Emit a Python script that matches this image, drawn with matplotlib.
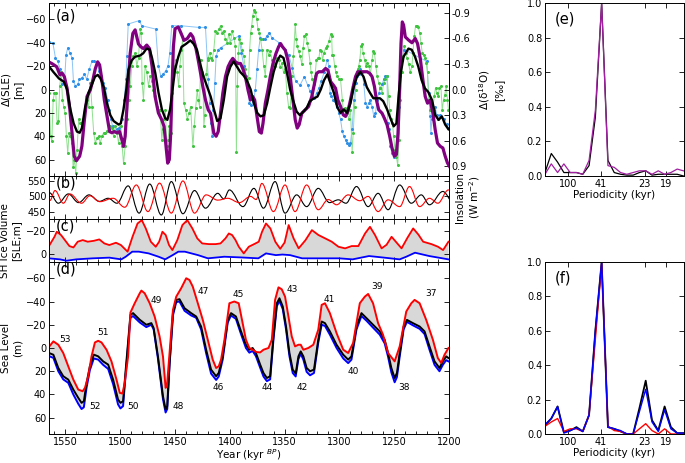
import numpy as np
import matplotlib
matplotlib.use("Agg")
import matplotlib.pyplot as plt
from matplotlib.ticker import MultipleLocator, FormatStrFormatter
from matplotlib.path import Path
from matplotlib.patches import PathPatch

plt.rcParams['font.family'] = ['DejaVu Sans']
plt.rcParams['axes.linewidth'] = 0.7

# ---- panel (a): sea level reconstructions (m) ----
A_BLACK = [(1566,-21),(1561,-15),(1556,-9.5),(1551.5,-6.7),(1548.5,0),(1545.5,17),(1542.5,29),(1539.5,36),(1537,37),(1535,33),
           (1532,15),(1529,3),(1526,-4),(1523,-11),(1520.5,-12.5),(1518,-9.5),(1515,-2),(1512,12),(1509,22),(1506,27),
           (1501.5,30),(1499.5,29),(1497,17),(1494.5,0),(1492.5,-17),(1489.5,-25),(1486.5,-28),(1482,-29),(1479,-31),(1476,-35),
           (1473,-34),(1471,-27),(1468,-14),(1465,3),(1462,17),(1459,24.5),(1457,26),(1454.5,17),(1452,-2),(1450,-17),
           (1447,-28),(1444,-36.5),(1440,-39),(1436,-42),(1433,-39),(1430,-34),(1427,-22),(1424,-11),(1420.5,-2),(1417.5,6),
           (1414.5,17),(1411.5,27),(1408.5,24.5),(1405.5,9),(1402.5,-11),(1399.5,-19.5),(1396.5,-24),(1393.5,-19.5),(1390.5,-15),
           (1387.5,-12),(1384.5,-8),(1381,0),(1378,12),(1375,20),(1372,23),(1369,22),(1366,12),(1363,-2),(1360,-15),
           (1357,-24),(1354,-29),(1351,-27),(1348,-15),(1345,0),(1342,10),(1339,19),(1336,22),(1333,19),(1330,16),
           (1327,10),(1324,8),(1320,6),(1317,0),(1314,-8),(1311,-13),(1308,-5),(1305,3),(1302,15),(1299,20),
           (1296,17),(1293,20),(1290,12),(1287,-2),(1284,-11),(1281,-15),(1278,-11),(1275,-2),(1272,3),(1269,7.5),
           (1266,7.5),(1263,7.5),(1260,10),(1256.5,17),(1253.5,24.5),(1250.5,31.5),(1248,29),(1246,6),(1244,-14),(1241.5,-28),
           (1237,-35),(1234,-34),(1231,-28),(1228,-19.5),(1225,-8),(1222,-1),(1219,2),(1215.5,9),(1212.5,22),(1209.5,26),
           (1206.5,23),(1203.5,30),(1200.5,34)]

A_PURPLE = [(1566,-24),(1562,-22),(1558,-19.5),(1555,-12.5),(1553,-14),(1551,-11),(1548.5,-1),(1546,17),(1544,37),(1542,57),
            (1540,61),(1537,57),(1535,48.5),(1532.7,26),(1530.3,6),(1527.3,0.4),(1525,-8),(1522.7,-18),(1520.6,-23.7),(1518.8,-21),
            (1516.7,-8),(1514.5,9),(1512,23),(1509.7,36),(1507.6,37),(1505.5,36),(1503,37),(1500.6,36),(1498.5,43),(1497,48.6),
            (1495.5,40),(1494,17),(1492.4,-11),(1490.9,-31),(1488.5,-48),(1486.4,-51),(1484.9,-45),(1483.4,-39),(1481.2,-36.5),
            (1478.8,-35),(1475.8,-38),(1473.3,-35),(1470.9,-19.5),(1468.2,6),(1465.2,20),(1462.1,26),(1460,31.6),(1458.2,48.6),
            (1456.7,63),(1455.2,60),(1453.9,37),(1452.7,-2.4),(1451.5,-36.5),(1450,-52),(1447,-53.5),(1444.9,-49),(1443.1,-45),
            (1441.9,-42),(1438.8,-43.6),(1435.8,-47.8),(1433.7,-45),(1431.2,-36.5),(1428.8,-25),(1426.7,-14),(1424.6,-2.4),
            (1422.2,9),(1419.7,17.4),(1417.6,20.3),(1416.1,28.8),(1414.6,37.3),(1412.5,40),(1410.6,36),(1408.5,20.3),(1406.4,3.2),
            (1404,-11),(1401.6,-19.5),(1399.4,-23.7),(1397.3,-26.6),(1394.9,-23.7),(1392.5,-22.3),(1390.3,-22.3),(1388.2,-18),
            (1385.8,-11),(1383.4,0.4),(1381.2,9),(1379.1,6),(1377.3,9),(1375.2,23),(1373.1,36),(1371.2,37.3),(1369.7,28.8),
            (1367.6,11.7),(1365.2,0.4),(1363.1,-11),(1360.6,-22.3),(1357.9,-30.8),(1355.5,-36.5),(1353.7,-39.3),(1351.9,-36.5),
            (1349.4,-33.6),(1347,-25),(1344.9,-11),(1342.8,6),(1340.3,26),(1338.5,33),(1336.7,30),(1334.3,20.3),(1331.2,17.4),
            (1328.2,14.6),(1325.2,6),(1322.5,-6),(1320.8,-13.8),(1318.7,-15.2),(1315.6,-15.2),(1312.6,-18),(1310.5,-16.6),
            (1308,-6.7),(1305.6,-3.9),(1303.5,-1),(1301.4,9),(1298.9,14.6),(1296.5,21.7),(1294.4,23),(1292.3,18.8),(1289.9,9),
            (1287.4,-2.4),(1285.3,-11),(1283.2,-15.2),(1280.8,-15.2),(1277.7,-15.2),(1274.7,-15.2),(1272.3,-13.8),(1270.2,-11),
            (1268,-2.4),(1266.2,9),(1264.1,17.4),(1261.1,20.3),(1259,24.5),(1256.5,30.2),(1254.1,40),(1252,50),(1249.9,57),
            (1248,55.7),(1246.5,37.3),(1245,-2.4),(1243.8,-39.3),(1242.6,-57.8),(1241.4,-55),(1239.9,-45),(1236.8,-42.2),
            (1233.8,-40),(1230.8,-43.6),(1228.7,-39.3),(1226.2,-26.6),(1223.8,-8),(1221.7,6),(1219.6,11.7),(1217.2,9),
            (1214.7,20.3),(1212.6,34.4),(1210.5,45.8),(1208,48.6),(1205.6,50),(1203.5,57),(1201.4,62.8),(1199.6,65.7)]

# ---- panel (a): d18O records (permil, right axis) ----
A_BLUE = [(1565.2,-0.56),(1561.5,-0.55),(1559.1,-0.37),(1557,-0.33),(1554.8,-0.24),(1553,-0.06),(1550.9,-0.08),(1549.4,-0.41),
          (1547.9,-0.49),(1545.8,-0.43),(1543.9,-0.37),(1542.7,-0.10),(1540.9,-0.04),(1538.8,-0.06),(1537.3,-0.12),(1534.8,-0.14),
          (1532.7,-0.18),(1530.6,-0.12),(1528.2,-0.24),(1525.8,-0.33),(1523.6,-0.33),(1521.5,-0.31),(1519.1,-0.22),(1517.6,-0.16),
          (1515.5,-0.08),(1513.6,-0.02),(1511.5,0.12),(1510,0.24),(1508.5,0.35),(1507,0.43),(1505.5,0.49),(1503.3,0.47),
          (1500.9,0.45),(1498.5,0.35),(1496.4,0.12),(1494.8,-0.12),(1493.9,-0.39),(1492.7,-0.77),(1482.7,-0.81),(1480.3,-0.75),
          (1467.6,-0.71),(1465.2,-0.28),(1463,-0.16),(1460.9,-0.18),(1458.5,-0.22),(1456.4,-0.28),(1454.8,-0.43),(1453,-0.75),
          (1444.8,-0.75),(1428.2,-0.73),(1422.2,-0.73),(1419.7,-0.12),(1418.5,0.16),(1417.3,0.39),(1416.1,0.55),(1414.9,0.24),
          (1413.7,-0.08),(1412.5,-0.39),(1410.6,-0.47),(1408.5,-0.49),(1391.9,-0.63),(1389.4,-0.43),(1387.3,-0.28),(1385.2,-0.16),
          (1383.4,-0.04),(1382.2,0.16),(1380.3,0.18),(1378.5,0.14),(1376.7,0.0),(1375.2,-0.24),(1373.7,-0.47),(1372.2,-0.61),
          (1370,-0.59),(1368.2,-0.59),(1366.1,-0.63),(1364,-0.67),(1361.6,-0.61),(1355,-0.55),(1349.4,-0.47),(1346,-0.40),
          (1343,-0.25),(1340,-0.10),(1336,-0.05),(1332,-0.15),(1329,-0.05),(1327,0.02),(1325,0.08),(1323.2,0.10),(1320.8,0.04),
          (1318.7,-0.02),(1316.5,-0.1),(1314,-0.2),(1311,-0.35),(1309.6,-0.28),(1308.5,0.04),(1307.4,0.08),(1305.6,0.12),
          (1304.4,0.14),(1303.2,0.16),(1302,0.2),(1300.5,0.28),(1299,0.35),(1297.4,0.49),(1296,0.55),(1294.4,0.59),(1292.9,0.63),
          (1291.4,0.65),(1290,0.63),(1288.4,0.47),(1286.8,0.12),(1285.3,-0.08),(1283.8,-0.16),(1282.3,-0.18),(1280.8,-0.24),
          (1279.2,-0.20),(1277.7,-0.06),(1276.2,0.16),(1274.7,0.20),(1273.2,0.16),(1271.7,0.12),(1270.2,0.20),(1268.7,0.31),
          (1267.1,0.28),(1265.6,0.12),(1264.1,0.04),(1262.6,-0.02),(1261.1,-0.06),(1259.6,-0.12),(1258,-0.16),(1256.5,-0.16),
          (1256,0.39),(1255,0.47),(1253.5,0.67),(1252,0.75),(1250.5,0.79),(1249,0.75),(1247.5,0.59),(1246,0.2),(1244.5,-0.16),
          (1243,-0.35),(1240.8,-0.47),(1220.2,-0.33),(1218.7,0.04),(1217.2,0.31),(1216.5,0.51),(1215.6,0.35),(1214.1,0.24),
          (1212.6,0.20),(1211.1,0.30),(1209.6,0.35),(1208,0.30),(1205,0.35),(1202,0.41),(1200.5,0.45)]

A_GREEN = [(1566.1,-0.12),(1564.9,0.04),(1563.6,0.55),(1562.4,0.61),(1561.2,0.12),(1560.0,0.04),(1558.8,0.04),(1557.6,0.39),
           (1556.4,0.37),(1555.2,-0.04),(1553.9,-0.20),(1552.7,0.12),(1551.5,0.20),(1550.3,0.28),(1549.1,0.55),(1547.9,0.75),
           (1546.7,0.51),(1545.5,0.55),(1544.2,0.63),(1543.0,0.91),(1541.8,0.83),(1540.6,0.98),(1539.4,0.71),(1537.9,0.35),
           (1536.4,0.39),(1534.9,0.39),(1533.3,0.31),(1531.8,0.24),(1530.3,0.12),(1528.8,0.20),(1527.3,-0.08),(1525.8,0.20),
           (1524.2,0.51),(1522.7,0.63),(1521.2,0.57),(1519.7,0.55),(1518.2,0.63),(1516.7,0.55),(1515.2,0.51),(1513.6,0.51),
           (1512.1,0.49),(1510.6,0.47),(1509.1,0.43),(1507.6,0.45),(1506.1,0.55),(1504.5,0.43),(1503.0,0.51),(1501.5,0.63),
           (1499.4,0.43),(1498.2,0.67),(1497.0,0.87),(1495.5,0.67),(1494.0,0.35),(1492.4,0.12),(1490.9,-0.04),(1489.4,-0.28),
           (1487.9,-0.39),(1486.4,-0.43),(1484.9,-0.28),(1483.3,-0.37),(1481.8,-0.71),(1480.9,-0.67),(1480.0,-0.08),(1478.8,0.12),
           (1477.3,-0.28),(1475.8,-0.20),(1474.2,-0.04),(1472.7,-0.16),(1471.2,-0.10),(1469.7,0.0),(1468.2,0.08),(1466.7,0.20),
           (1465.2,0.24),(1463.6,0.24),(1462.1,0.59),(1461.2,0.47),(1460.0,0.35),(1458.8,0.24),(1457.6,0.67),(1456.4,0.59),
           (1455.2,0.43),(1454.0,0.51),(1452.7,0.04),(1451.5,-0.16),(1450.3,-0.28),(1449.1,-0.35),(1447.9,-0.20),(1446.7,-0.04),
           (1445.5,-0.28),(1444.2,-0.47),(1443.0,-0.59),(1441.9,0.16),(1440.3,0.24),(1438.8,0.35),(1437.3,0.28),(1435.8,0.20),
           (1433.7,0.67),(1432.5,0.43),(1431.2,0.22),(1429.7,0.0),(1428.8,0.12),(1427.6,0.20),(1426.7,-0.35),(1425.8,-0.20),
           (1424.6,-0.16),(1423.7,0.43),(1422.8,0.30),(1421.6,-0.18),(1420.3,-0.35),(1419.7,-0.37),(1418.5,-0.43),(1417.3,-0.37),
           (1416.1,-0.35),(1414.6,-0.47),(1413.1,-0.69),(1411.5,-0.67),(1410.0,-0.71),(1408.5,-0.75),(1407.0,-0.67),(1405.5,-0.69),
           (1404.0,-0.59),(1402.5,-0.55),(1400.9,-0.65),(1399.4,-0.55),(1397.9,-0.69),(1396.4,-0.61),(1394.9,-0.51),(1394.0,0.74),
           (1393.1,-0.04),(1392.2,-0.43),(1391.2,-0.59),(1390.0,-0.55),(1388.8,-0.47),(1387.3,-0.39),(1385.8,-0.24),(1384.9,-0.12),
           (1383.7,0.02),(1382.8,-0.14),(1381.9,-0.47),(1381.0,-0.67),(1380.0,-0.75),(1379.1,-0.87),(1377.9,-0.93),(1376.7,-0.91),
           (1375.5,-0.83),(1374.3,-0.71),(1373.1,-0.67),(1371.9,-0.59),(1370.6,-0.47),(1369.1,-0.28),(1367.6,-0.16),(1366.1,-0.47),
           (1364.6,-0.41),(1363.1,-0.45),(1361.5,-0.35),(1360.0,-0.31),(1358.5,-0.28),(1357.0,-0.37),(1355.5,-0.35),(1354.0,-0.26),
           (1352.5,-0.31),(1351.0,-0.20),(1349.4,-0.24),(1347.9,0.04),(1346.4,0.20),(1344.9,0.22),(1343.4,-0.16),(1341.9,-0.39),
           (1340.3,-0.77),(1339.4,-0.59),(1338.5,-0.51),(1337.3,-0.45),(1335.8,-0.39),(1334.3,-0.30),(1333.1,-0.49),(1331.9,-0.63),
           (1330.6,-0.65),(1329.4,-0.55),(1328.2,-0.47),(1326.7,-0.31),(1325.8,-0.20),(1324.6,-0.12),(1323.4,-0.06),(1322.2,-0.16),
           (1321.0,-0.35),(1319.7,-0.37),(1318.7,-0.37),(1317.7,-0.47),(1316.5,-0.45),(1315.3,-0.35),(1314.1,-0.43),(1312.6,-0.49),
           (1311.1,-0.51),(1309.6,-0.57),(1308.0,-0.65),(1307.1,-0.63),(1306.5,-0.41),(1305.6,-0.41),(1304.4,-0.28),(1303.2,-0.20),
           (1302.0,-0.16),(1300.5,-0.12),(1299.0,-0.12),(1297.4,0.12),(1296.5,0.24),(1295.3,0.22),(1294.1,0.24),(1292.9,0.28),
           (1291.4,0.35),(1289.9,0.24),(1288.4,0.73),(1287.4,0.51),(1286.2,0.20),(1285.3,0.0),(1284.4,-0.20),(1283.2,-0.24),
           (1282.3,-0.28),(1281.4,-0.35),(1280.2,-0.51),(1279.3,-0.53),(1278.4,-0.43),(1277.1,-0.35),(1275.9,-0.28),(1274.7,-0.31),
           (1273.2,-0.28),(1271.7,-0.18),(1270.2,-0.35),(1269.3,-0.45),(1268.0,-0.43),(1266.8,-0.28),(1265.6,-0.16),(1264.1,-0.08),
           (1262.6,-0.02),(1261.1,0.04),(1259.6,-0.08),(1258.0,-0.12),(1256.5,-0.16),(1255.0,0.08),(1254.1,0.24),(1252.9,0.35),
           (1251.7,0.39),(1250.5,0.55),(1249.3,0.71),(1248.0,0.79),(1246.8,0.89),(1245.6,0.59),(1244.4,0.12),(1243.2,-0.20),
           (1242.0,-0.39),(1240.8,-0.51),(1239.6,-0.43),(1238.3,-0.37),(1236.8,-0.30),(1235.3,-0.20),(1233.8,-0.28),(1232.9,-0.43),
           (1231.7,-0.63),(1230.5,-0.75),(1229.3,-0.75),(1228.0,-0.73),(1226.8,-0.67),(1225.6,-0.55),(1224.4,-0.43),(1223.2,-0.41),
           (1222.0,-0.37),(1220.8,-0.31),(1219.6,-0.20),(1218.4,0.12),(1217.1,0.24),(1215.9,0.16),(1214.7,0.22),(1213.5,0.08),
           (1212.3,-0.02),(1211.1,0.04),(1209.9,0.08),(1208.7,-0.02),(1207.4,-0.04),(1206.2,0.24),(1205.0,0.12),(1203.8,0.06),
           (1202.6,-0.04),(1201.4,0.12),(1200.5,0.24)]

# ---- panel (b): insolation extremes (W m-2), alternating max / min ----
B_BLACK = [(1570,478),(1564.7,512),(1556.5,478),(1547.4,508),(1538,480),(1528.5,505),(1519,484),(1511,494),
           (1503,478),(1492.8,534),(1482.8,446),(1473.1,540),(1462.5,440),(1453.4,548),(1442.8,444),(1432.2,519),
           (1422.2,462),(1411,510),(1405.5,492),(1400.4,521),(1388,467),(1378,526),(1369.3,462),(1358.7,548),
           (1349.6,446),(1339,505),(1329.9,467),(1319.3,526),(1309,480),(1301,489),(1294,478),(1284.4,532),
           (1273.8,467),(1264.7,510),(1255.6,457),(1245,537),(1234.4,478),(1225.3,505),(1217.8,473),(1205.6,516),
           (1196,480)]
B_RED = [(1570,500),(1564.1,487),(1559.5,519),(1551.9,478),(1545.9,508),(1535.3,478),(1527.7,502),(1518.6,483),
         (1506.5,494),(1495.9,465),(1485.3,537),(1474.7,451),(1464.1,543),(1453.4,446),(1442.8,550),(1432.2,446),
         (1421.6,505),(1411,488),(1402,494),(1391.3,480),(1381,500),(1376,490),(1370.8,542),(1360.2,451),
         (1349.6,537),(1340.5,451),(1329.9,537),(1319.3,457),(1310.2,490),(1302.6,473),(1292,505),(1281.4,486),
         (1273.8,500),(1264.7,451),(1255.6,489),(1245,467),(1236,532),(1226.8,467),(1217.8,494),(1210.2,478),
         (1200.5,521),(1195,500)]

# ---- panel (c): SH ice volume (SLE m) ----
C_RED = [(1565,-7),(1560,-15),(1557.9,-19.4),(1554,-16.5),(1549.4,-10.7),(1546.4,-6.9),(1542.7,-5.7),(1538.8,-10.7),
         (1534.2,-12.1),(1529.7,-10.7),(1524,-11.5),(1519.1,-12.7),(1514.5,-9.2),(1510,-7.8),(1503.9,-9.8),(1499.4,-7.8),
         (1493.3,-2.0),(1488.8,-15.0),(1484.2,-26.6),(1480.3,-29.5),(1476.7,-22.3),(1472.1,-10.7),(1467.6,-6.3),(1464.5,-10.7),
         (1461.5,-19.4),(1458.5,-16.5),(1455.5,-7.8),(1452.4,-3.4),(1447.9,-12.1),(1443.3,-25.2),(1438.8,-29.5),(1434.2,-22.3),
         (1429.7,-13.6),(1425.2,-9.2),(1419.1,-8.6),(1413,-8.6),(1408.5,-9.2),(1404,-13.6),(1400.9,-17.9),(1397.9,-16.5),
         (1394.8,-12.1),(1391.8,-6.3),(1387.3,-0.5),(1382.7,-6.3),(1377,-9),(1373.6,-10.7),(1370.6,-19.4),(1367,-26.6),
         (1363,-22.3),(1358.5,-10.7),(1354,-4.5),(1350,-10),(1346.3,-25.2),(1341.8,-13.6),(1337.2,-4.9),(1331,-12),
         (1325.1,-20.8),(1319.1,-16.5),(1313,-13.6),(1307,-10.7),(1300.9,-6.3),(1294.8,-4.9),(1288.8,-6.9),(1282.7,-6.9),
         (1276.6,-17.9),(1272.1,-23.7),(1267.5,-16.5),(1261.5,-4.9),(1257,-8),(1252.4,-15.0),(1247,-9),(1243.3,-4.9),
         (1238,-14),(1232.7,-22.3),(1228,-17),(1223.6,-10.7),(1216,-8.6),(1210,-6.3),(1205.4,-3.4),(1200.5,-10.7)]
C_BLUE = [(1565,3.8),(1555,4.7),(1549,5.9),(1540,4.7),(1525,3.8),(1510,3.2),(1499,4.7),(1495,2.4),(1489,-2.0),
          (1483,-2.0),(1474,-0.5),(1465,2.4),(1459,4.7),(1452,0.9),(1447,-2.0),(1441,-2.0),(1429,1.0),(1420,3.8),
          (1405,2.4),(1390,3.0),(1374,3.8),(1367,-0.5),(1358,1.0),(1352,0.5),(1345,1.0),(1334,3.8),(1319,3.8),
          (1300,3.8),(1288,4.7),(1273,1.8),(1261,3.0),(1245,4.7),(1239,2.4),(1231,-1.1),(1218,1.8),(1200.5,4.7)]

# ---- panel (d): sea level (m) ----
D_RED = [(1565,-1),(1561,-5.7),(1556.5,-2.8),(1552,4.3),(1547.4,15.8),(1542.8,27.2),(1538.3,35.8),(1534.3,37.2),
         (1532.2,34.3),(1529.2,24.3),(1526.2,7.2),(1523.1,-4.8),(1520.1,-6.2),(1517.1,-4.8),(1512.5,1.5),(1508,11.5),
         (1503.4,27.2),(1500.4,38.6),(1498,39.2),(1495.9,30.0),(1492.8,7.2),(1490.7,-30.5),(1486.8,-38.5),(1482.2,-47.1),
         (1480.7,-49.4),(1477.7,-47.1),(1473.1,-38.5),(1468.6,-27.1),(1464.1,-10.0),(1461,7.2),(1458.6,34.3),(1457.4,32.9),
         (1455,4.3),(1451.9,-32.8),(1448.9,-44.2),(1444.4,-51.4),(1439.8,-60.0),(1436.8,-58.5),(1433.8,-52.8),(1429.2,-38.5),
         (1424.7,-24.3),(1420.1,-7.1),(1415.6,10.0),(1412.5,17.2),(1410.1,15.7),(1408,10.0),(1404.9,-7.1),(1400.4,-38.5),
         (1395.9,-40.0),(1391.9,-38.5),(1388.3,-21.4),(1385.3,-7.1),(1382.2,0),(1379.2,1.5),(1375.8,3.5),(1372.3,3.8),
         (1369.3,1.5),(1364.7,0.0),(1361.7,-7.1),(1358.7,-41.4),(1355.6,-52.2),(1352.6,-50.5),(1349.6,-44.2),(1346.5,-27.1),
         (1343.5,-10.0),(1340.5,-1.4),(1337.4,-2.8),(1335.3,-2.8),(1332.9,1.5),(1328.4,0.0),(1323.8,-2.8),(1319.3,-15.7),
         (1316.2,-37.1),(1313.2,-38.5),(1308.7,-30.0),(1302.6,-12.8),(1296.5,1.5),(1292,4.3),(1287.5,-4.3),(1281.4,-38.5),
         (1276.8,-44.2),(1273.8,-46.5),(1269.3,-38.5),(1264.7,-21.4),(1260.2,-11.4),(1255.6,4.3),(1249.6,11.5),(1245,-1.4),
         (1239,-31.4),(1234.4,-38.5),(1231.4,-41.4),(1226.8,-38.5),(1220.8,-24.2),(1214.7,-7.1),(1210.2,8.6),(1207.1,12.9),
         (1204.1,5.8),(1200.5,0.0)]
D_BLACK = [(1565,4.3),(1561,5.8),(1556.5,17.2),(1552,24.3),(1547.4,27.2),(1542.8,35.8),(1538.3,42.9),(1535.3,47.2),
           (1533.2,45.8),(1530.7,30.0),(1527.7,15.7),(1524.1,5.7),(1520.1,7.2),(1515.6,11.5),(1511,14.3),(1506.5,27.2),
           (1502,44.3),(1499.8,47.2),(1497.4,45.8),(1495,18.6),(1490.7,-28.5),(1488.3,-30.0),(1482.2,-24.3),(1476.2,-20.0),
           (1471.6,-21.4),(1469.5,-17.1),(1465.6,7.2),(1461,41.5),(1458.6,52.9),(1457.1,50.0),(1455,12.9),(1451.9,-30.0),
           (1448.9,-41.4),(1445.9,-42.0),(1441.3,-34.2),(1435.3,-30.0),(1430.7,-27.1),(1426.2,-18.5),(1421.6,1.5),(1417.1,18.6),
           (1412.5,24.3),(1410.1,21.4),(1406.5,7.1),(1401.9,-24.2),(1398.9,-30.0),(1394.4,-27.1),(1389.8,-14.3),(1385.3,-2.8),
           (1382.2,1.5),(1379.2,0.0),(1376.2,4.3),(1372.3,14.3),(1369.3,21.5),(1366.2,25.8),(1363.2,24.3),(1360.2,-10.0),
           (1357.1,-38.5),(1354.7,-42.8),(1351.7,-35.7),(1348.7,-18.5),(1345.6,4.3),(1342.6,18.6),(1339.9,22.0),(1337.4,7.2),
           (1335.3,2.9),(1332.9,7.2),(1329.9,17.2),(1326.8,20.0),(1323.2,18.6),(1319.3,-7.1),(1316.2,-22.8),(1313.2,-21.4),
           (1308.7,-14.3),(1302.6,-2.8),(1296.5,5.8),(1292,10.0),(1289,7.2),(1284.4,-18.5),(1279.9,-30.0),(1275.3,-25.7),
           (1269.3,-20.0),(1263.2,-14.3),(1258.7,-7.1),(1255.6,4.3),(1252.6,17.2),(1249.6,25.8),(1247.5,21.5),(1245,4.3),
           (1241.4,-18.5),(1238.4,-24.2),(1232.9,-21.4),(1226.8,-18.5),(1222.3,-14.3),(1217.8,-1.4),(1213.2,11.5),(1208.7,17.2),
           (1205.6,11.5),(1202.6,7.2),(1200.5,8.6)]
D_BLUE = [(1565,7),(1561,8.5),(1556.5,20),(1552,27),(1547.4,30),(1542.8,40),(1538.3,48),(1535.3,52.5),
          (1533.2,51),(1530.7,34),(1527.7,19),(1524.1,9),(1520.1,10),(1515.6,14.5),(1511,18),(1506.5,31),
          (1502,48.5),(1499.8,52),(1497.4,50),(1495,22),(1490.7,-26),(1488.3,-27.5),(1482.2,-22),(1476.2,-18),
          (1471.6,-20),(1469.5,-16),(1465.6,9),(1461,44),(1458.6,55.5),(1457.1,52.5),(1455,15),(1451.9,-28),
          (1448.9,-39.5),(1445.9,-40),(1441.3,-32),(1435.3,-28),(1430.7,-26),(1426.2,-16),(1421.6,4.5),(1417.1,22),
          (1412.5,27.5),(1410.1,24.5),(1406.5,10),(1401.9,-22),(1398.9,-28),(1394.4,-25),(1389.8,-12),(1385.3,0),
          (1382.2,4),(1379.2,2.5),(1376.2,7),(1372.3,17),(1369.3,24.5),(1366.2,28.5),(1363.2,27),(1360.2,-7),
          (1357.1,-36),(1354.7,-40.5),(1351.7,-33.5),(1348.7,-16),(1345.6,7),(1342.6,21.5),(1339.9,24.5),(1337.4,9.5),
          (1335.3,5),(1332.9,10),(1329.9,20.5),(1326.8,23.5),(1323.2,21.5),(1319.3,-4.5),(1316.2,-20),(1313.2,-19),
          (1308.7,-11.5),(1302.6,0),(1296.5,9),(1292,13),(1289,10),(1284.4,-16),(1279.9,-27.5),(1275.3,-23.5),
          (1269.3,-17.5),(1263.2,-11.5),(1258.7,-4),(1255.6,7.5),(1252.6,21),(1249.6,29.5),(1247.5,25),(1245,7.5),
          (1241.4,-16),(1238.4,-22.5),(1232.9,-19.5),(1226.8,-16.5),(1222.3,-12),(1217.8,1.5),(1213.2,14.5),(1208.7,20),
          (1205.6,14.5),(1202.6,10.5),(1200.5,11.5)]

MIS_LABELS = [("53",1550,-7),("51",1516,-13),("49",1467,-41),("47",1424,-49),("45",1392,-46),("43",1343,-50),
              ("41",1309,-42),("39",1266,-53),("37",1216,-47),("52",1523,50),("50",1488,50),("48",1447,50),
              ("46",1411,34),("44",1366,34),("42",1334,34),("40",1287,20),("38",1241,34)]

# ---- panels (e), (f): normalised spectra, frequency index k -> k/365 kyr^-1 ----
SPEC_K = list(range(23))
E_BLACK = [0.02,0.13,0.08,0.02,0.02,0.02,0.01,0.06,0.34,1.0,0.09,0.02,0.01,0.005,0.005,0.02,0.03,0.005,0.01,0.01,0.01,0.01,0.0]
E_PURPLE = [0.01,0.07,0.02,0.07,0.02,0.02,0.01,0.09,0.38,1.0,0.06,0.05,0.02,0.01,0.02,0.03,0.03,0.01,0.03,0.01,0.02,0.04,0.03]
F_BLACK = [0.05,0.09,0.16,0.01,0.02,0.04,0.015,0.11,0.6,1.0,0.04,0.03,0.015,0.0,0.0,0.15,0.31,0.08,0.02,0.16,0.04,0.005,0.005]
F_BLUE = [0.055,0.09,0.16,0.005,0.02,0.035,0.015,0.11,0.6,1.0,0.04,0.03,0.02,0.0,0.0,0.13,0.26,0.07,0.015,0.14,0.03,0.005,0.005]
F_RED = [0.045,0.07,0.09,0.015,0.03,0.03,0.015,0.11,0.55,0.99,0.045,0.02,0.015,0.0,0.0,0.03,0.06,0.02,0.0,0.03,0.0,0.0,0.0]
PERIOD_TICKS = [100, 41, 23, 19]

FS = 7
W, H = 685, 463


def box(x0, y0, x1, y1):
    return [x0 / W, 1 - y1 / H, (x1 - x0) / W, (y1 - y0) / H]


def xy(pairs):
    a = np.array(pairs, dtype=float)
    return a[:, 0], a[:, 1]


def wave(ax, pairs, **kw):
    # smooth curve through alternating extremes (flat tangent at each extreme)
    verts = [pairs[0]]
    codes = [Path.MOVETO]
    for (x0, y0), (x1, y1) in zip(pairs[:-1], pairs[1:]):
        dx = x1 - x0
        verts += [(x0 + 0.364 * dx, y0), (x1 - 0.364 * dx, y1), (x1, y1)]
        codes += [Path.CURVE4] * 3
    ax.add_patch(PathPatch(Path(verts, codes), fill=False, **kw))


def style(ax, right=True):
    ax.tick_params(which='both', direction='in', top=True, right=right, labelsize=FS, width=0.6, pad=2)
    ax.tick_params(which='major', length=3.5)
    ax.tick_params(which='minor', length=2)


def time_axis(ax, labels=False):
    ax.set_xlim(1565, 1200)
    ax.xaxis.set_major_locator(MultipleLocator(50))
    ax.xaxis.set_minor_locator(MultipleLocator(10))
    if not labels:
        ax.tick_params(labelbottom=False)


def panel_tag(ax, s, x=0.018, y=0.97):
    ax.text(x, y, s, transform=ax.transAxes, fontsize=10.5, va='top', ha='left')


fig = plt.figure(figsize=(W / 100, H / 100), dpi=100)

# (a)
ax_a = fig.add_axes(box(49, 3, 449, 176))
ax_r = ax_a.twinx()
ax_a.set_zorder(2)
ax_a.patch.set_visible(False)
x, y = xy(A_BLUE)
ax_r.plot(x, y, color='#8cc4f5', lw=0.7, zorder=1)
ax_r.plot(x, y, ls='none', marker='o', ms=2.2, mec='none', color='#2d8fe6', zorder=2)
x, y = xy(A_GREEN)
ax_r.plot(x, y, color='#8fe08f', lw=0.7, zorder=1)
ax_r.plot(x, y, ls='none', marker='o', ms=2.2, mec='none', color='#3ec43e', zorder=2)
x, y = xy(A_PURPLE)
ax_a.plot(x, y, color='#800080', lw=2.3)
x, y = xy(A_BLACK)
ax_a.plot(x, y, color='black', lw=1.7)
time_axis(ax_a)
ax_a.set_ylim(74, -74)
ax_a.set_yticks([-60, -40, -20, 0, 20, 40, 60])
style(ax_a, right=False)
ax_r.set_ylim(1.017, -1.017)
ax_r.set_yticks([-0.9, -0.6, -0.3, 0.0, 0.3, 0.6, 0.9])
ax_r.yaxis.set_major_formatter(FormatStrFormatter('%.1f'))
ax_r.tick_params(direction='in', labelsize=FS, width=0.6, length=3.5, pad=2)
ax_a.set_ylabel('Δ(SLE)\n[m]', fontsize=FS + 0.5, labelpad=2)
ax_r.set_ylabel('Δ(δ$^{18}$O)\n[‰]', fontsize=FS + 0.5, labelpad=5)
panel_tag(ax_a, '(a)')

# (b)
ax_b = fig.add_axes(box(49, 176, 449, 219))
wave(ax_b, B_BLACK, edgecolor='black', lw=0.8)
wave(ax_b, B_RED, edgecolor='red', lw=0.8)
time_axis(ax_b)
ax_b.set_ylim(427, 566)
ax_b.set_yticks([450, 500, 550])
style(ax_b)
ax_b.yaxis.set_label_position('right')
ax_b.set_ylabel('Insolation\n(W m$^{-2}$)', fontsize=FS + 0.5, labelpad=4)
panel_tag(ax_b, '(b)', y=1.02)

# (c)
ax_c = fig.add_axes(box(49, 219, 449, 262))
xr, yr = xy(C_RED)
xb, yb = xy(C_BLUE)
ax_c.fill(np.r_[xr, xb[::-1]], np.r_[yr, yb[::-1]], color='#d8d8d8', lw=0)
ax_c.plot(xr, yr, color='red', lw=1.3)
ax_c.plot(xb, yb, color='blue', lw=1.3)
time_axis(ax_c)
ax_c.set_ylim(7, -30.5)
ax_c.set_yticks([-20, 0])
style(ax_c)
ax_c.set_ylabel('SH Ice Volume\n[SLE;m]', fontsize=FS + 0.5, labelpad=3)
panel_tag(ax_c, '(c)', y=1.02)

# (d)
ax_d = fig.add_axes(box(49, 262, 449, 434))
xr, yr = xy(D_RED)
xb, yb = xy(D_BLUE)
ax_d.fill(np.r_[xr, xb[::-1]], np.r_[yr, yb[::-1]], color='#d8d8d8', lw=0)
ax_d.plot(xb, yb, color='blue', lw=1.4)
x, y = xy(D_BLACK)
ax_d.plot(x, y, color='black', lw=1.4)
ax_d.plot(xr, yr, color='red', lw=1.4)
for s, yr_, v in MIS_LABELS:
    ax_d.text(yr_, v, s, fontsize=6.5, ha='center', va='center')
time_axis(ax_d, labels=True)
ax_d.set_ylim(74, -74)
ax_d.set_yticks([-60, -40, -20, 0, 20, 40, 60])
style(ax_d)
ax_d.set_ylabel('Sea Level\n(m)', fontsize=FS + 0.5, labelpad=2)
ax_d.set_xlabel('Year (kyr $^{BP}$)', fontsize=FS + 0.5, labelpad=0)
panel_tag(ax_d, '(d)', y=1.0)

# (e), (f)
freq = np.array(SPEC_K) / 365.0
ax_e = fig.add_axes(box(545, 3, 684, 176))
ax_e.plot(freq, E_BLACK, color='black', lw=0.9)
ax_e.plot(freq, E_PURPLE, color='#a020a0', lw=0.9)
ax_f = fig.add_axes(box(545, 262, 684, 434))
ax_f.plot(freq, F_BLACK, color='black', lw=1.3)
ax_f.plot(freq, F_RED, color='red', lw=1.0)
ax_f.plot(freq, F_BLUE, color='blue', lw=1.0)
for ax, tag in ((ax_e, '(e)'), (ax_f, '(f)')):
    ax.set_xlim(0, 0.0605)
    ax.set_ylim(0, 1.0)
    ax.set_xticks([1.0 / p for p in PERIOD_TICKS])
    ax.set_xticklabels([str(p) for p in PERIOD_TICKS])
    ax.set_yticks([0, 0.2, 0.4, 0.6, 0.8, 1.0])
    ax.yaxis.set_major_formatter(FormatStrFormatter('%.1f'))
    style(ax)
    ax.set_xlabel('Periodicity (kyr)', fontsize=FS + 0.5, labelpad=1)
    panel_tag(ax, tag, x=0.07, y=0.95)

fig.savefig('out.png', dpi=100)
